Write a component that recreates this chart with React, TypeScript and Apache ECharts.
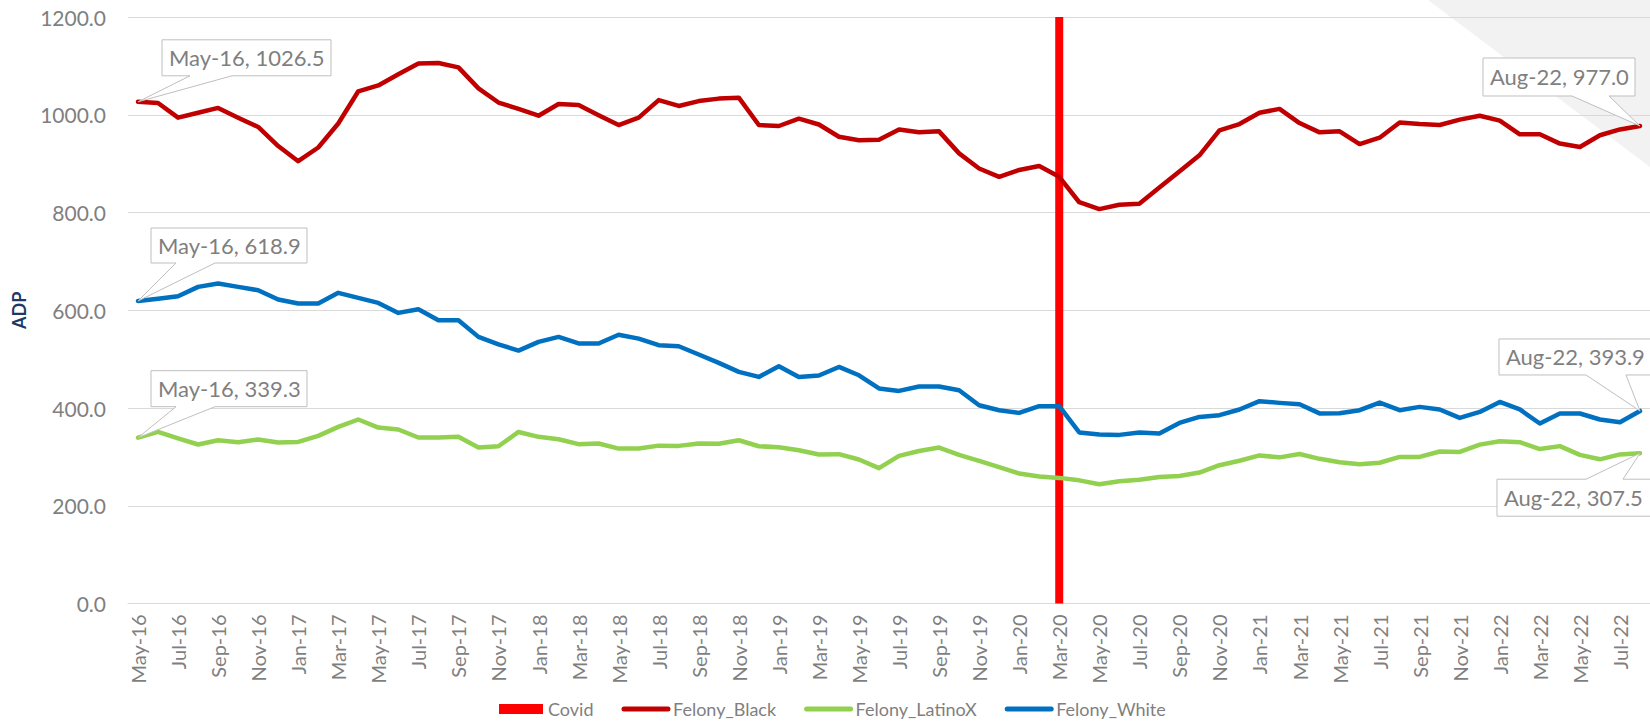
import React, { useEffect, useRef } from "react";
import * as echarts from "echarts";

const months = [
  "May-16", "Jun-16", "Jul-16", "Aug-16", "Sep-16", "Oct-16", "Nov-16", "Dec-16",
  "Jan-17", "Feb-17", "Mar-17", "Apr-17", "May-17", "Jun-17", "Jul-17", "Aug-17", "Sep-17", "Oct-17", "Nov-17", "Dec-17",
  "Jan-18", "Feb-18", "Mar-18", "Apr-18", "May-18", "Jun-18", "Jul-18", "Aug-18", "Sep-18", "Oct-18", "Nov-18", "Dec-18",
  "Jan-19", "Feb-19", "Mar-19", "Apr-19", "May-19", "Jun-19", "Jul-19", "Aug-19", "Sep-19", "Oct-19", "Nov-19", "Dec-19",
  "Jan-20", "Feb-20", "Mar-20", "Apr-20", "May-20", "Jun-20", "Jul-20", "Aug-20", "Sep-20", "Oct-20", "Nov-20", "Dec-20",
  "Jan-21", "Feb-21", "Mar-21", "Apr-21", "May-21", "Jun-21", "Jul-21", "Aug-21", "Sep-21", "Oct-21", "Nov-21", "Dec-21",
  "Jan-22", "Feb-22", "Mar-22", "Apr-22", "May-22", "Jun-22", "Jul-22", "Aug-22",
];

const felonyBlack = [
  1026.5, 1024, 994, 1004, 1014, 994, 975, 936, 905, 933,
  982, 1048, 1060, 1083, 1105, 1106, 1097, 1054, 1025, 1012,
  998, 1022, 1020, 999, 979, 994, 1030, 1018, 1028, 1033,
  1035, 979, 977, 992, 980, 955, 948, 949, 970, 964,
  966, 921, 890, 873, 887, 895, 873, 821, 807, 816,
  818, 851, 884, 917, 968, 981, 1004, 1012, 983, 964,
  966, 940, 953, 984, 981, 979, 990, 998, 988, 960,
  960, 941, 934, 958, 970, 977.0,
];

const felonyLatinoX = [
  339.3, 351, 338, 325.3, 334, 330, 335.5, 329.4, 330.6, 343,
  361.3, 376.5, 360, 356, 339.6, 339.6, 341, 319, 321.8, 351,
  341, 336, 326, 327.3, 317, 317, 323, 322.5, 327.3, 327,
  334, 321.8, 319.8, 313.6, 304.8, 305.5, 294.6, 277, 302, 312,
  319, 304, 292, 279, 266, 260, 257, 252, 244, 250,
  253, 259, 261, 268, 283, 292, 303, 299, 306, 296,
  289, 285, 288, 300, 300, 311, 310, 325, 332, 330,
  316, 322, 304, 295, 305, 307.5,
];

const felonyWhite = [
  618.9, 623.6, 628.7, 647.8, 654.7, 647.8, 641, 622, 613.8, 613.8,
  635.6, 625.3, 615, 594.6, 602, 579.6, 579.6, 545.5, 530, 517.5,
  535.3, 545.5, 532, 532, 550, 542, 528.5, 526.4, 509.4, 492.3,
  474, 463.6, 485.5, 463.6, 466.5, 484, 467, 440, 435, 444,
  444, 436.4, 405.7, 395.5, 390, 403.7, 403.7, 349.9, 345.8, 345,
  350, 347.8, 369.5, 381.8, 385.3, 397, 414, 410.5, 407.8, 389,
  389.4, 395.5, 411, 395.5, 402.3, 397, 379.8, 392, 412.5, 397,
  368.3, 388.7, 388.7, 376.5, 371, 393.9,
];

const covidMonth = "Mar-20";
const covidValue = 1200;

const yMin = 0;
const yMax = 1200;
const yInterval = 200;

const seriesNames = ["Covid", "Felony_Black", "Felony_LatinoX", "Felony_White"];

const FONT = "Lato";
const GRAY = "#7f7f7f";

// callout styling: which series/end, box offset relative to the data point, wedge base offsets
const calloutSpecs = [
  { s: 1, end: "first", box: [24, -62, 169, 36], wedge: [52, 94], side: "bottom" },
  { s: 3, end: "first", box: [13, -73, 156, 35], wedge: [38, 77], side: "bottom" },
  { s: 2, end: "first", box: [13, -67, 156, 36], wedge: [38, 77], side: "bottom" },
  { s: 1, end: "last", box: [-157, -68, 152, 38], wedge: [-68, -31], side: "bottom" },
  { s: 3, end: "last", box: [-141, -72, 158, 36], wedge: [-54, -14], side: "bottom" },
  { s: 2, end: "last", box: [-143, 26, 158, 37], wedge: [-54, -17], side: "top" },
];

export default function App() {
  const ref = useRef<HTMLDivElement>(null);

  useEffect(() => {
    if (!ref.current) return;
    const chart = echarts.init(ref.current, undefined, { renderer: "svg" });
    const covidData = months.map((m) => (m === covidMonth ? covidValue : null));
    const dataBySeries: Record<number, number[]> = {
      1: felonyBlack,
      2: felonyLatinoX,
      3: felonyWhite,
    };

    chart.setOption({
      animation: false,
      backgroundColor: "#ffffff",
      grid: { left: 128, top: 17, width: 1527, height: 586.5, containLabel: false },
      legend: {
        left: 499,
        top: 700,
        padding: 0,
        itemGap: 28,
        itemWidth: 44,
        itemHeight: 10,
        lineStyle: { width: 5, cap: "round" },
        textStyle: { color: GRAY, fontSize: 18, fontFamily: FONT },
        data: [
          { name: "Covid", icon: "rect" },
          { name: "Felony_Black", itemStyle: { opacity: 0 } },
          { name: "Felony_LatinoX", itemStyle: { opacity: 0 } },
          { name: "Felony_White", itemStyle: { opacity: 0 } },
        ],
      },
      xAxis: {
        type: "category",
        data: months,
        boundaryGap: true,
        axisLine: { show: true, lineStyle: { color: "#d9d9d9", width: 1 } },
        axisTick: { show: false },
        axisLabel: {
          interval: 1,
          rotate: 90,
          margin: 11,
          color: GRAY,
          fontSize: 20,
          fontFamily: FONT,
        },
        splitLine: { show: false },
      },
      yAxis: {
        type: "value",
        min: yMin,
        max: yMax,
        interval: yInterval,
        name: "ADP",
        nameLocation: "middle",
        nameGap: 100,
        nameRotate: 90,
        nameTextStyle: { color: "#1f3864", fontWeight: "bold", fontSize: 18, fontFamily: FONT },
        axisLine: { show: false },
        axisTick: { show: false },
        axisLabel: {
          margin: 22,
          color: GRAY,
          fontSize: 21,
          fontFamily: FONT,
          formatter: (v: number) => v.toFixed(1),
        },
        splitLine: { show: true, lineStyle: { color: "#d9d9d9", width: 1 } },
      },
      series: [
        {
          name: seriesNames[0],
          type: "bar",
          data: covidData,
          barWidth: 8,
          itemStyle: { color: "#ff0000" },
          z: 1,
        },
        {
          name: seriesNames[1],
          type: "line",
          data: felonyBlack,
          symbol: "none",
          color: "#c00000",
          lineStyle: { width: 4.5, color: "#c00000", cap: "round", join: "round" },
          z: 3,
        },
        {
          name: seriesNames[2],
          type: "line",
          data: felonyLatinoX,
          symbol: "none",
          color: "#92d050",
          lineStyle: { width: 4.5, color: "#92d050", cap: "round", join: "round" },
          z: 3,
        },
        {
          name: seriesNames[3],
          type: "line",
          data: felonyWhite,
          symbol: "none",
          color: "#0070c0",
          lineStyle: { width: 4.5, color: "#0070c0", cap: "round", join: "round" },
          z: 3,
        },
      ],
    });

    const elements: any[] = [
      {
        type: "polygon",
        z: -10,
        silent: true,
        shape: { points: [[1428, 0], [1650, 0], [1650, 167]] },
        style: { fill: "#f2f2f2" },
      },
    ];

    calloutSpecs.forEach((c) => {
      const arr = dataBySeries[c.s];
      const idx = c.end === "first" ? 0 : arr.length - 1;
      const val = arr[idx];
      const p = chart.convertToPixel({ seriesIndex: c.s }, [idx, val]) as number[];
      const px = p[0];
      const py = p[1];
      const L = px + c.box[0];
      const T = py + c.box[1];
      const R = L + c.box[2];
      const B = T + c.box[3];
      const w1 = px + c.wedge[0];
      const w2 = px + c.wedge[1];
      const pts =
        c.side === "bottom"
          ? [[L, T], [R, T], [R, B], [w2, B], [px, py], [w1, B], [L, B]]
          : [[L, T], [w1, T], [px, py], [w2, T], [R, T], [R, B], [L, B]];
      elements.push({
        type: "polygon",
        z: 100,
        shape: { points: pts },
        style: { fill: "#ffffff", stroke: "#bfbfbf", lineWidth: 1 },
      });
      elements.push({
        type: "text",
        z: 101,
        x: L + 7,
        y: (T + B) / 2,
        style: {
          text: `${months[idx]}, ${val.toFixed(1)}`,
          fill: GRAY,
          fontSize: 22,
          fontFamily: FONT,
          verticalAlign: "middle",
          align: "left",
        },
      });
    });

    chart.setOption({ graphic: { elements } });

    return () => chart.dispose();
  }, []);

  return (
    <div
      ref={ref}
      style={{ position: "absolute", left: 0, top: 0, width: 1650, height: 723 }}
    />
  );
}
